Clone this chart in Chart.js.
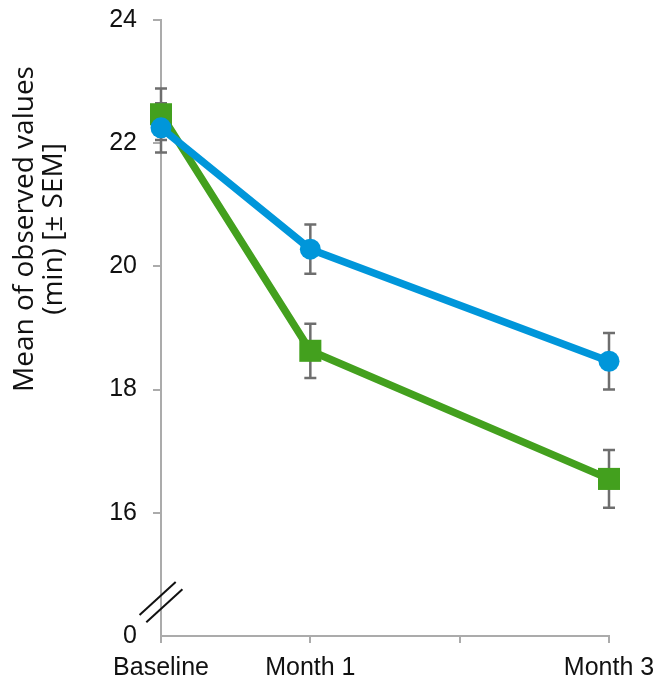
<!DOCTYPE html>
<html>
<head>
<meta charset="utf-8">
<script src="https://cdn.jsdelivr.net/npm/chart.js@4"></script>
<style>
  html, body { margin: 0; padding: 0; background: #fff; }
  #wrap { width: 659px; height: 683px; }
</style>
</head>
<body>
<div id="wrap"><canvas id="chart"></canvas></div>
<script>
// ── Data ──
const months = [0, 1, 3];
const xTickLabels = ['Baseline', 'Month 1', '', 'Month 3'];
const blueMeans = [22.25, 20.28, 18.46];
const blueSem = [0.40, 0.40, 0.46];
const greenMeans = [22.47, 18.63, 16.55];
const greenSem = [0.42, 0.44, 0.47];
const yMin = 14, yMax = 24, yStep = 2;
const yTitle = ['Mean of observed values', '(min) [± SEM]'];

const BLUE = '#0096DA';
const GREEN = '#43A01E';
const AXIS = '#ababab';
const ERR = '#6e6e6e';

// ── Error bars (drawn under the lines) ──
const errorBars = {
  id: 'errorBars',
  beforeDatasetsDraw(chart) {
    const ctx = chart.ctx;
    const y = chart.scales.y;
    chart.data.datasets.forEach((ds, di) => {
      const meta = chart.getDatasetMeta(di);
      meta.data.forEach((pt, i) => {
        const v = ds.data[i].y;
        const top = y.getPixelForValue(v + ds.sem[i]);
        const bot = y.getPixelForValue(v - ds.sem[i]);
        ctx.save();
        ctx.strokeStyle = ERR;
        ctx.lineWidth = 2.5;
        ctx.beginPath();
        ctx.moveTo(pt.x, top); ctx.lineTo(pt.x, bot);
        ctx.moveTo(pt.x - 6, top); ctx.lineTo(pt.x + 6, top);
        ctx.moveTo(pt.x - 6, bot); ctx.lineTo(pt.x + 6, bot);
        ctx.stroke();
        ctx.restore();
      });
    });
  }
};

// ── Axis break marks + rotated two-line y title ──
const decorations = {
  id: 'decorations',
  afterDraw(chart) {
    const ctx = chart.ctx;
    const y = chart.scales.y;
    const cx = chart.chartArea.left;
    const cy = y.getPixelForValue(yMin + 0.55);
    const dx = 0.737, dy = -0.675, half = 24.5;
    ctx.save();
    ctx.strokeStyle = '#111';
    ctx.lineWidth = 2;
    [-5, 5].forEach(o => {
      const ox = cx + o * 0.675, oy = cy + o * 0.737;
      ctx.beginPath();
      ctx.moveTo(ox - dx * half, oy - dy * half);
      ctx.lineTo(ox + dx * half, oy + dy * half);
      ctx.stroke();
    });
    ctx.restore();

    ctx.save();
    ctx.fillStyle = '#111';
    ctx.font = '28px "Open Sans"';
    ctx.textAlign = 'center';
    ctx.textBaseline = 'middle';
    const midY = chart.chartArea.top + 209;
    yTitle.forEach((line, i) => {
      ctx.save();
      ctx.translate(y.left + 25 + i * 29, midY);
      ctx.rotate(-Math.PI / 2);
      ctx.fillText(line, 0, 0);
      ctx.restore();
    });
    ctx.restore();
  }
};

const toPoints = vals => months.map((m, i) => ({ x: m, y: vals[i] }));

new Chart(document.getElementById('chart'), {
  type: 'line',
  data: {
    datasets: [
      {
        label: 'Blue',
        data: toPoints(blueMeans),
        sem: blueSem,
        borderColor: BLUE,
        backgroundColor: BLUE,
        borderWidth: 7.5,
        pointStyle: 'circle',
        pointRadius: 10.5,
        pointBorderWidth: 0,
        tension: 0,
        clip: false
      },
      {
        label: 'Green',
        data: toPoints(greenMeans),
        sem: greenSem,
        borderColor: GREEN,
        backgroundColor: GREEN,
        borderWidth: 7.5,
        pointStyle: 'rect',
        pointRadius: 15.6,
        pointBorderWidth: 0,
        tension: 0,
        clip: false
      }
    ]
  },
  options: {
    responsive: true,
    maintainAspectRatio: false,
    animation: false,
    layout: { padding: { top: 20, right: 50, left: 0, bottom: 0 } },
    plugins: {
      legend: { display: false },
      tooltip: { enabled: false }
    },
    scales: {
      x: {
        type: 'linear',
        min: 0,
        max: 3,
        afterFit: s => {
          s.height = 47;
          s.paddingLeft = 0; s.paddingRight = 0;
        },
        border: { color: AXIS, width: 2 },
        grid: { drawOnChartArea: false, drawTicks: true, tickLength: 7, color: AXIS, lineWidth: 2 },
        ticks: {
          stepSize: 1,
          padding: 10,
          color: '#111',
          font: { family: '"Liberation Sans", Arial', size: 25 },
          maxRotation: 0,
          callback: v => xTickLabels[v]
        }
      },
      y: {
        min: yMin,
        max: yMax,
        afterFit: s => {
          s.width = 161;
          s.paddingTop = 0; s.paddingBottom = 0;
        },
        border: { color: AXIS, width: 2 },
        grid: {
          drawOnChartArea: false,
          drawTicks: true,
          tickLength: 8,
          lineWidth: 2,
          color: c => (c.tick && c.tick.value === yMin) ? 'rgba(0,0,0,0)' : AXIS
        },
        ticks: {
          stepSize: yStep,
          padding: 16,
          color: '#111',
          font: { family: '"Liberation Sans", Arial', size: 25 },
          callback: v => v === yMin ? '0' : v
        }
      }
    }
  },
  plugins: [errorBars, decorations]
});
</script>
</body>
</html>
